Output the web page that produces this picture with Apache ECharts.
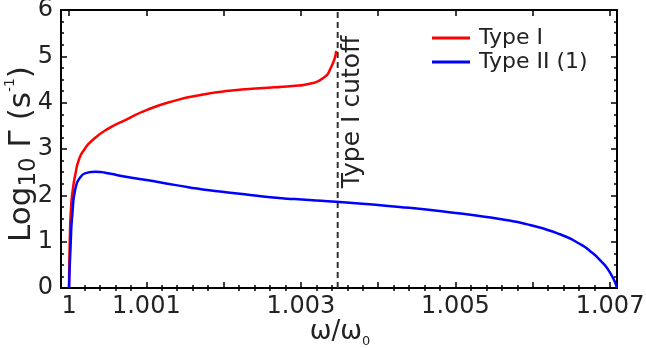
<!DOCTYPE html>
<html><head><meta charset="utf-8">
<script src="https://cdn.jsdelivr.net/npm/echarts@6/dist/echarts.min.js"></script>
<style>html,body{margin:0;padding:0;background:#fff}#c{width:646px;height:348px}</style>
</head><body><div id="c"></div>
<script>
const FONT = 'DejaVu Sans';
const xMin = 0.999896, xMax = 1.00709;
const yMin = 0, yMax = 6;

const typeIx = [1.0, 1.000012, 1.000025, 1.000043, 1.000087, 1.00013, 1.000194, 1.000302, 1.000519, 1.000735, 1.001002, 1.001383, 1.001685, 1.002031, 1.002463, 1.002891, 1.003111, 1.00328, 1.003392, 1.003457];
const typeIy = [0.0, 1.2, 1.7, 2.05, 2.5, 2.78, 2.98, 3.19, 3.45, 3.63, 3.84, 4.05, 4.16, 4.25, 4.31, 4.36, 4.41, 4.52, 4.77, 5.12];

const typeIIx = [1.0, 1.00002, 1.000043, 1.000087, 1.000152, 1.000216, 1.000346, 1.000519, 1.000735, 1.001002, 1.001383, 1.001815, 1.002243, 1.00268, 1.003111, 1.003457, 1.004278, 1.005004, 1.005574, 1.005963, 1.006352, 1.006611, 1.00674, 1.006871, 1.007, 1.00709];
const typeIIy = [0.0, 0.9, 1.6, 2.18, 2.40, 2.48, 2.51, 2.47, 2.40, 2.33, 2.22, 2.11, 2.03, 1.95, 1.90, 1.86, 1.75, 1.62, 1.49, 1.36, 1.16, 0.95, 0.80, 0.60, 0.33, 0.0];

const cutoffX = 1.003476;
const cutoffText = 'Type I cutoff';
const seriesNames = ['Type I', 'Type II (1)'];

const xMajorTicks = [1, 1.001, 1.002, 1.003, 1.004, 1.005, 1.006, 1.007];
const xLabelValues = [1, 1.001, 1.003, 1.005, 1.007];
const xLabelTexts = ['1', '1.001', '1.003', '1.005', '1.007'];
const xMinorTicks = [];
for (let i = 0; i <= 35; i++) { if (i % 5) xMinorTicks.push(1 + i * 0.0002); }

function zip(xs, ys) { return xs.map((x, i) => [x, ys[i]]); }
function xFmt(v) {
  let best = 0, d = Infinity;
  xLabelValues.forEach((t, i) => { const dd = Math.abs(t - v); if (dd < d) { d = dd; best = i; } });
  return xLabelTexts[best];
}

const axisLineStyle = { show: true, onZero: false, lineStyle: { color: '#000', width: 2 } };
function xAxisMaj(pos, labels) {
  return {
    type: 'value', position: pos, min: xMin, max: xMax,
    axisLine: axisLineStyle,
    axisTick: { show: true, inside: true, length: 6, customValues: xMajorTicks, lineStyle: { color: '#000', width: 1.5 } },
    axisLabel: labels ? { show: true, customValues: xLabelValues, formatter: xFmt, fontSize: 24, color: '#222', fontFamily: FONT, margin: 7 } : { show: false },
    splitLine: { show: false }
  };
}
function xAxisMin(pos) {
  return {
    type: 'value', position: pos, min: xMin, max: xMax,
    axisLine: { show: false },
    axisTick: { show: true, inside: true, length: 3, customValues: xMinorTicks, lineStyle: { color: '#000', width: 1.5 } },
    axisLabel: { show: false }, splitLine: { show: false }
  };
}
function yAxisDef(pos, labels) {
  return {
    type: 'value', position: pos, min: yMin, max: yMax, interval: 1,
    axisLine: axisLineStyle,
    axisTick: { show: true, inside: true, length: 6, lineStyle: { color: '#000', width: 1.5 } },
    minorTick: { show: true, splitNumber: 4, length: 3, lineStyle: { color: '#000', width: 1.5 } },
    axisLabel: labels ? { show: true, fontSize: 24, color: '#222', fontFamily: FONT, margin: 8 } : { show: false },
    splitLine: { show: false }, minorSplitLine: { show: false }
  };
}

const chart = echarts.init(document.getElementById('c'), null, { renderer: 'canvas' });
chart.setOption({
  animation: false,
  backgroundColor: '#fff',
  grid: { left: 61, right: 29, top: 10, bottom: 60, outerBoundsMode: 'none', containLabel: false },
  xAxis: [xAxisMaj('bottom', true), xAxisMin('bottom'), xAxisMaj('top', false), xAxisMin('top')],
  yAxis: [yAxisDef('left', true), yAxisDef('right', false)],
  legend: {
    data: seriesNames, orient: 'vertical', left: 427, top: 22,
    icon: 'rect', itemWidth: 38, itemHeight: 3, itemGap: 2,
    textStyle: { fontSize: 22, fontFamily: FONT, color: '#222', lineHeight: 22, padding: [0, 0, 0, 4] }
  },
  series: [
    { name: seriesNames[0], type: 'line', xAxisIndex: 0, yAxisIndex: 0, data: zip(typeIx, typeIy),
      showSymbol: false, smooth: 0.6, color: '#ff0000', lineStyle: { color: '#ff0000', width: 2.5 }, z: 5 },
    { name: seriesNames[1], type: 'line', xAxisIndex: 0, yAxisIndex: 0, data: zip(typeIIx, typeIIy),
      showSymbol: false, smooth: 0.6, color: '#0000ff', lineStyle: { color: '#0000ff', width: 2.5 }, z: 5 },
    { name: 'cutoff', type: 'line', xAxisIndex: 0, yAxisIndex: 0, data: [[cutoffX, yMin], [cutoffX, yMax]],
      showSymbol: false, lineStyle: { color: '#333', width: 2, type: [6, 4] }, z: 3, silent: true }
  ],
  graphic: [
    { type: 'text', x: 22, y: 154, rotation: Math.PI / 2,
      style: { text: '{a|Log}{b|10}{a| Γ (s}{c|-1}{a|)}', align: 'center', verticalAlign: 'middle', fill: '#222',
        rich: {
          a: { fontSize: 31, fontFamily: FONT, fill: '#222', lineHeight: 38, verticalAlign: 'middle' },
          b: { fontSize: 23, fontFamily: FONT, fill: '#222', lineHeight: 38, verticalAlign: 'bottom' },
          c: { fontSize: 14, fontFamily: FONT, fill: '#222', lineHeight: 38, verticalAlign: 'top' }
        } } },
    { type: 'text', x: 340, y: 332,
      style: { text: '{a|ω/ω}{b|0}', align: 'center', verticalAlign: 'middle', fill: '#222',
        rich: {
          a: { fontSize: 26, fontFamily: FONT, fill: '#222', lineHeight: 32, verticalAlign: 'middle' },
          b: { fontSize: 13, fontFamily: FONT, fill: '#222', lineHeight: 32, verticalAlign: 'bottom' }
        } } },
    { type: 'text', x: 352, y: 112, rotation: Math.PI / 2,
      style: { text: cutoffText, align: 'center', verticalAlign: 'middle', fontSize: 25, fontFamily: FONT, fill: '#222' } }
  ]
});
</script></body></html>
